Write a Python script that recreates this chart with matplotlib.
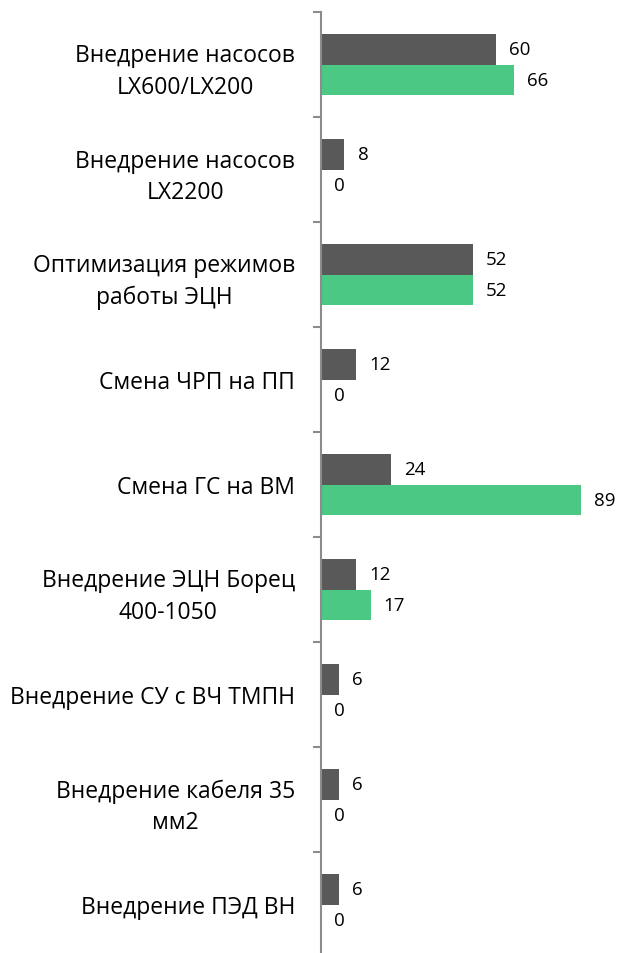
import matplotlib.pyplot as plt
import numpy as np

plt.rcParams['font.family'] = ['Open Sans', 'DejaVu Sans']

categories = [
    'Внедрение насосов\nLX600/LX200',
    'Внедрение насосов\nLX2200',
    'Оптимизация режимов\nработы ЭЦН',
    'Смена ЧРП на ПП',
    'Смена ГС на ВМ',
    'Внедрение ЭЦН Борец\n400-1050',
    'Внедрение СУ с ВЧ ТМПН',
    'Внедрение кабеля 35\nмм2',
    'Внедрение ПЭД ВН',
]
series_gray = [60, 8, 52, 12, 24, 12, 6, 6, 6]
series_green = [66, 0, 52, 0, 89, 17, 0, 0, 0]

gray = '#595959'
green = '#4CC885'
axis_col = '#8C8C8C'

fig = plt.figure(figsize=(6.19, 9.54), dpi=100)
ax = fig.add_axes([321 / 619, -4 / 954, 291.7 / 619, 945 / 954])

n = len(categories)
y = np.arange(n)
h = 0.29

ax.barh(y - h / 2, series_gray, height=h, color=gray)
ax.barh(y + h / 2, series_green, height=h, color=green)

for yi, v in zip(y, series_gray):
    ax.annotate(str(v), (v, yi - h / 2), xytext=(9.5, 0), textcoords='offset points',
                ha='left', va='center', fontsize=13.5)
for yi, v in zip(y, series_green):
    ax.annotate(str(v), (v, yi + h / 2), xytext=(9.5, 0), textcoords='offset points',
                ha='left', va='center', fontsize=13.5)

ax.set_xlim(0, 100)
ax.set_ylim(n - 0.5, -0.5)

ax.set_yticks(y)
ax.set_yticklabels(categories, fontsize=16.5, multialignment='center', linespacing=1.4)
ax.tick_params(axis='y', which='major', length=0, pad=18.7)
ax.set_yticks(np.arange(n + 1) - 0.5, minor=True)
ax.tick_params(axis='y', which='minor', length=6, width=1.5, color=axis_col)

ax.set_xticks([])
for side in ['top', 'right', 'bottom']:
    ax.spines[side].set_visible(False)
ax.spines['left'].set_color(axis_col)
ax.spines['left'].set_linewidth(1.5)

fig.savefig('out.png', dpi=100)
